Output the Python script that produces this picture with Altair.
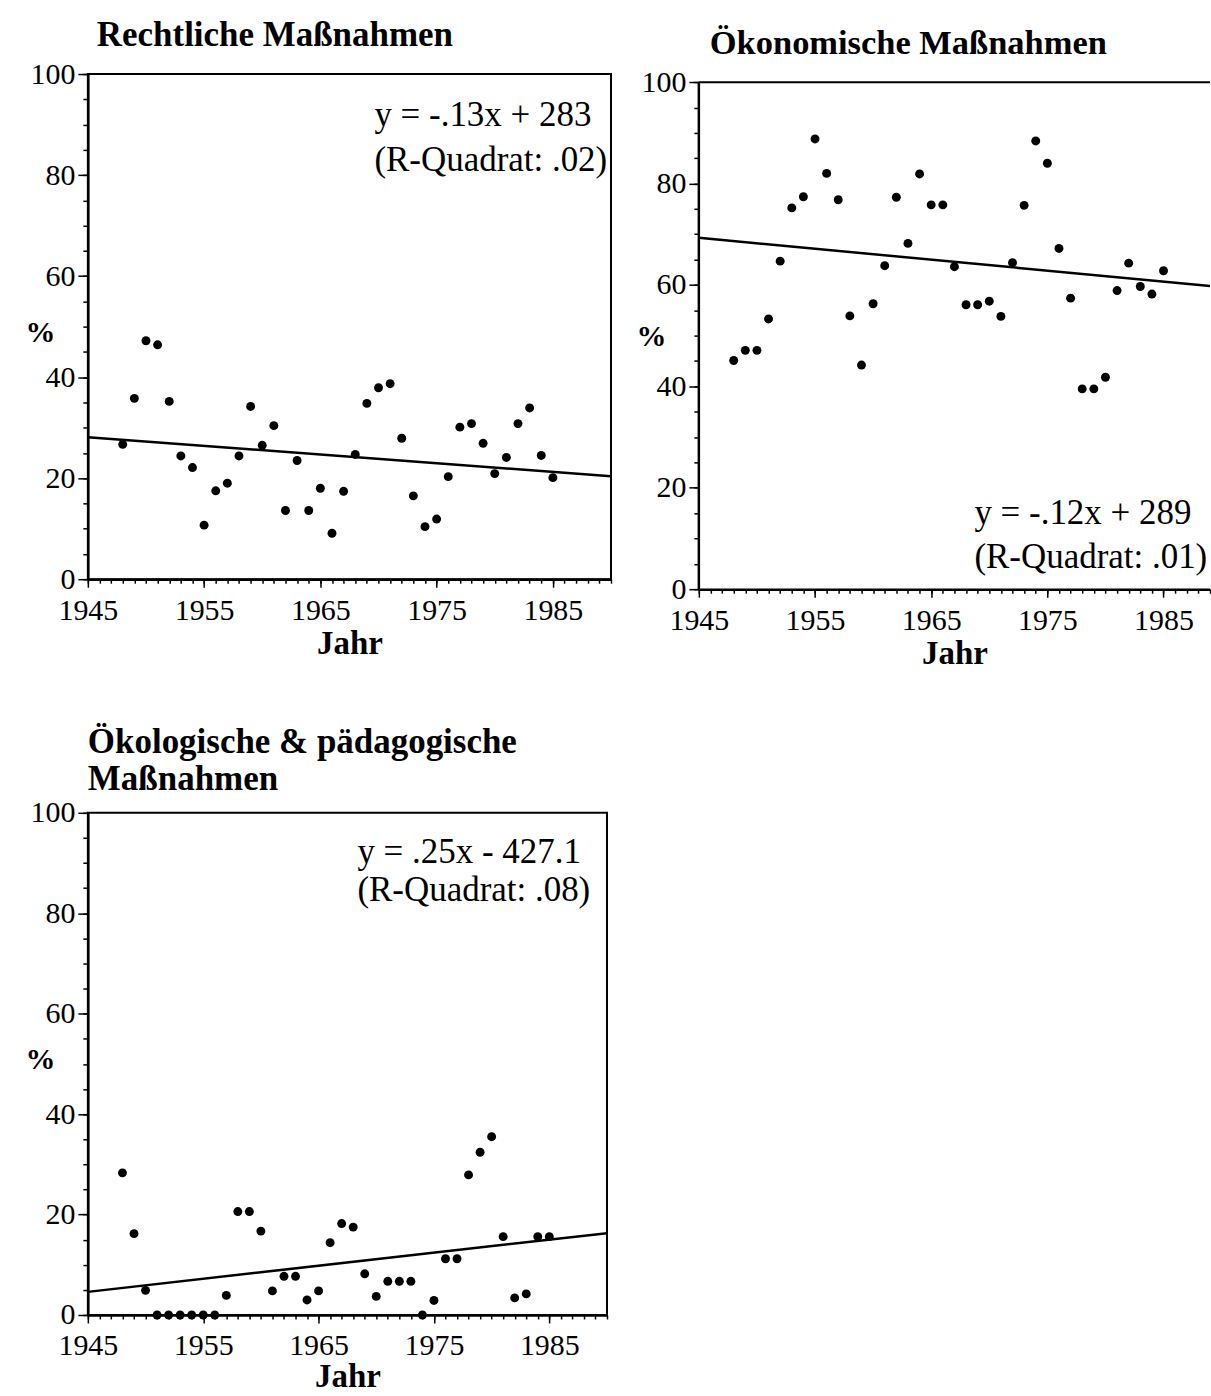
import altair as alt
import pandas as pd

# ---------------- data ----------------
years = list(range(1948, 1986))

recht = [26.7, 35.8, 47.2, 46.4, 35.2, 24.4, 22.1, 10.7, 17.5, 19.0,
         24.4, 34.2, 26.5, 30.4, 13.6, 23.5, 13.6, 18.0, 9.1, 17.4,
         24.7, 34.8, 37.9, 38.7, 27.9, 16.5, 10.4, 11.9, 20.3, 30.1,
         30.8, 26.9, 20.9, 24.1, 30.8, 33.9, 24.5, 20.1]

oekon = [45.1, 47.1, 47.1, 53.3, 64.7, 75.2, 77.4, 88.8, 82.0, 76.8,
         53.9, 44.2, 56.3, 63.8, 77.3, 68.2, 81.9, 75.8, 75.8, 63.6,
         56.1, 56.1, 56.8, 53.8, 64.4, 75.7, 88.4, 84.0, 67.2, 57.4,
         39.5, 39.5, 41.8, 58.9, 64.3, 59.7, 58.2, 62.8]

oekol = [28.3, 16.2, 4.9, 0.0, 0.0, 0.0, 0.0, 0.0, 0.0, 3.9,
         20.6, 20.6, 16.7, 4.8, 7.7, 7.7, 3.0, 4.8, 14.4, 18.2,
         17.5, 8.2, 3.7, 6.7, 6.7, 6.7, 0.0, 2.9, 11.2, 11.2,
         27.9, 32.4, 35.5, 15.6, 3.4, 4.2, 15.6, 15.6]

trend_years = [1945, 1990]
recht_trend = [28.1, 20.4]
oekon_trend = [69.3, 59.6]
oekol_trend = [4.6, 16.3]

x_major = [1945, 1955, 1965, 1975, 1985]
y_major = [0, 20, 40, 60, 80, 100]

titles = ["Rechtliche Maßnahmen",
          "Ökonomische Maßnahmen",
          ["Ökologische & pädagogische", "Maßnahmen"]]
equations = [("y = -.13x + 283", "(R-Quadrat: .02)"),
             ("y = -.12x + 289", "(R-Quadrat: .01)"),
             ("y = .25x - 427.1", "(R-Quadrat: .08)")]
x_title = "Jahr"
y_title = "%"

FONT = "Liberation Serif"


def x_axis_major(label_pad, title_pad):
    return alt.Axis(
        orient="bottom", values=x_major, format="d",
        tickSize=8, tickColor="black", tickWidth=1.5,
        labelFlush=False, labelOverlap=False, grid=False,
        domainColor="black", domainWidth=2.5,
        labelFont=FONT, labelFontSize=30, labelColor="black", labelPadding=label_pad,
        title=x_title, titleFont=FONT, titleFontSize=33, titleFontWeight="bold",
        titleColor="black", titlePadding=title_pad,
    )


def x_axis_minor(xmax):
    return alt.Axis(
        orient="bottom", values=list(range(1945, xmax + 1)),
        tickSize=4, tickColor="black", tickWidth=1.5,
        labels=False, domain=False, grid=False, title=None,
    )


def y_axis_major(pct_y, domain=True):
    return alt.Axis(
        orient="left", values=y_major, format="d",
        tickSize=10, tickColor="black", tickWidth=1.5,
        labelOverlap=False, grid=False, domain=domain,
        domainColor="black", domainWidth=2.5,
        labelFont=FONT, labelFontSize=30, labelColor="black", labelPadding=3,
        title=y_title, titleFont=FONT, titleFontSize=30, titleFontWeight="bold",
        titleColor="black", titleAngle=0, titleAlign="center", titleBaseline="middle",
        titleX=-48, titleY=pct_y,
    )


def y_axis_minor():
    return alt.Axis(
        orient="left", values=list(range(0, 101, 5)),
        tickSize=5, tickColor="black", tickWidth=1.5,
        labels=False, domain=False, grid=False, title=None,
    )


def panel(vals, trend, title, eq, width, height, xmax, ymax, eq_x, eq_y1, eq_y2,
          title_dx, title_size, title_offset, pct_y, label_pad=8, title_pad=2,
          frame=True):
    df = pd.DataFrame({"Jahr": years, "Prozent": vals})
    tdf = pd.DataFrame({"Jahr": trend_years, "Prozent": trend})
    eqdf = pd.DataFrame({"l1": [eq[0]], "l2": [eq[1]]})

    def xs():
        return alt.Scale(domain=[1945, xmax], nice=False, zero=False)

    def ys():
        return alt.Scale(domain=[0, ymax], nice=False, zero=False)

    line = alt.Chart(tdf).mark_line(color="black", strokeWidth=2.5, clip=True).encode(
        x=alt.X("Jahr:Q", scale=xs(), axis=x_axis_minor(xmax)),
        y=alt.Y("Prozent:Q", scale=ys(), axis=y_axis_minor()),
    )
    pts = alt.Chart(df).mark_circle(size=80, color="black", opacity=1).encode(
        x=alt.X("Jahr:Q", scale=xs(), axis=x_axis_major(label_pad, title_pad)),
        y=alt.Y("Prozent:Q", scale=ys(), axis=y_axis_major(pct_y, domain=frame)),
    )
    t1 = alt.Chart(eqdf).mark_text(font=FONT, fontSize=35, align="left",
                                   baseline="middle", color="black").encode(
        x=alt.value(eq_x), y=alt.value(eq_y1), text="l1:N")
    t2 = alt.Chart(eqdf).mark_text(font=FONT, fontSize=35, align="left",
                                   baseline="middle", color="black").encode(
        x=alt.value(eq_x), y=alt.value(eq_y2), text="l2:N")
    layers = [line, pts, t1, t2]
    if not frame:
        one = pd.DataFrame({"a": [0]})
        left = alt.Chart(one).mark_rule(color="black", strokeWidth=2.5).encode(
            x=alt.XDatum(1945, scale=xs(), axis=None),
            y=alt.YDatum(0, scale=ys(), axis=None), y2=alt.datum(100))
        top = alt.Chart(one).mark_rule(color="black", strokeWidth=2).encode(
            y=alt.YDatum(100, scale=ys(), axis=None),
            x=alt.XDatum(1945, scale=xs(), axis=None), x2=alt.datum(xmax))
        layers += [left, top]
    ch = alt.layer(*layers).resolve_scale(
        x="independent", y="independent"
    ).resolve_axis(
        x="independent", y="independent"
    ).properties(
        width=width, height=height,
        title=alt.TitleParams(text=title, anchor="start", frame="group", dx=title_dx,
                              font=FONT, fontSize=title_size, fontWeight="bold",
                              color="black", offset=title_offset, lineHeight=37),
    )
    if frame:
        ch = ch.properties(view=alt.ViewBackground(stroke="black", strokeWidth=2))
    else:
        ch = ch.properties(view=alt.ViewBackground(strokeOpacity=0))
    return ch


p1 = panel(recht, recht_trend, titles[0], equations[0], 524, 506, 1990, 100,
           287, 41, 86, 9, 35, 6, 259)
p2 = panel(oekon, oekon_trend, titles[1], equations[1], 512, 516, 1989, 101.6,
           276, 440, 484, 11, 34.5, 6, 263, frame=False)
p3 = panel(oekol, oekol_trend, titles[2], equations[2], 520, 503, 1990, 100,
           270, 39, 77, 0, 35, 1, 247, label_pad=8, title_pad=0)

chart = alt.vconcat(
    alt.hconcat(p1, p2, spacing=23),
    p3, spacing=54,
).properties(
    padding={"left": 24, "top": 16, "right": 0, "bottom": 0},
    background="white",
)

chart.save("out.html", embed_options={"renderer": "svg", "actions": False})
